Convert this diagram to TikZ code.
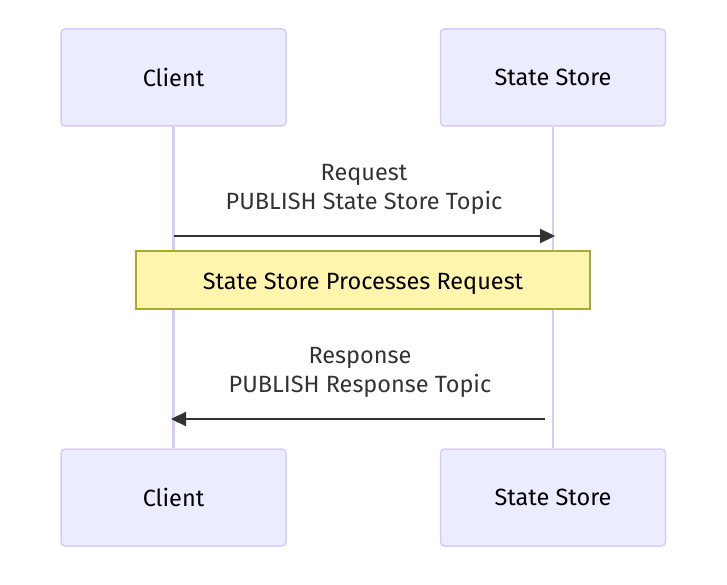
\documentclass[tikz,border=0pt]{standalone}
\usepackage{fontspec}
\setmainfont{Fira Sans}
\usetikzlibrary{arrows.meta}
\definecolor{actfill}{HTML}{ECECFF}
\definecolor{actline}{HTML}{D6CCF5}
\definecolor{notefill}{HTML}{FFF5AD}
\definecolor{noteline}{HTML}{AAAA33}
\definecolor{msg}{HTML}{333333}
\tikzset{
  actor/.style={draw=actline, fill=actfill, line width=1.5pt, rounded corners=4pt,
    minimum width=225pt, minimum height=97pt, font=\fontsize{23.5}{27}\selectfont, text=black},
  life/.style={draw=actline, line width=2.5pt},
  msgline/.style={draw=msg, line width=2.2pt, -{Triangle[length=15pt,width=14pt]}},
  msglabel/.style={font=\fontsize{23.5}{29}\selectfont, text=msg, align=center},
  notebox/.style={draw=noteline, fill=notefill, line width=1.2pt,
    minimum width=454pt, minimum height=58pt},
  notetext/.style={font=\fontsize{23.5}{27}\selectfont, text=black}
}
\begin{document}
\begin{tikzpicture}[x=1pt,y=-1pt]
\useasboundingbox (0,0) rectangle (727,585);
\node[actor] (c1) at (173.5,77.5) {Client};
\node[actor] (s1) at (553,77.5) {State Store};
\node[actor] (c2) at (173.5,497.5) {Client};
\node[actor] (s2) at (553,497.5) {State Store};
\draw[life] (c1.south) -- (c2.north);
\draw[life] (s1.south) -- (s2.north);
\coordinate (r1a) at (174,236);
\coordinate (r1b) at (555,236);
\draw[msgline] (r1a) -- (r1b);
\node[msglabel] (l1) at (364,189) {Request\\PUBLISH State Store Topic};
\node[notebox] (n) at (363,280) {};
\node[notetext] (nt) at (363,283.5) {State Store Processes Request};
\coordinate (r2a) at (545,419);
\coordinate (r2b) at (171,419);
\draw[msgline] (r2a) -- (r2b);
\node[msglabel] (l2) at (360,372) {Response\\PUBLISH Response Topic};
\end{tikzpicture}
\end{document}
